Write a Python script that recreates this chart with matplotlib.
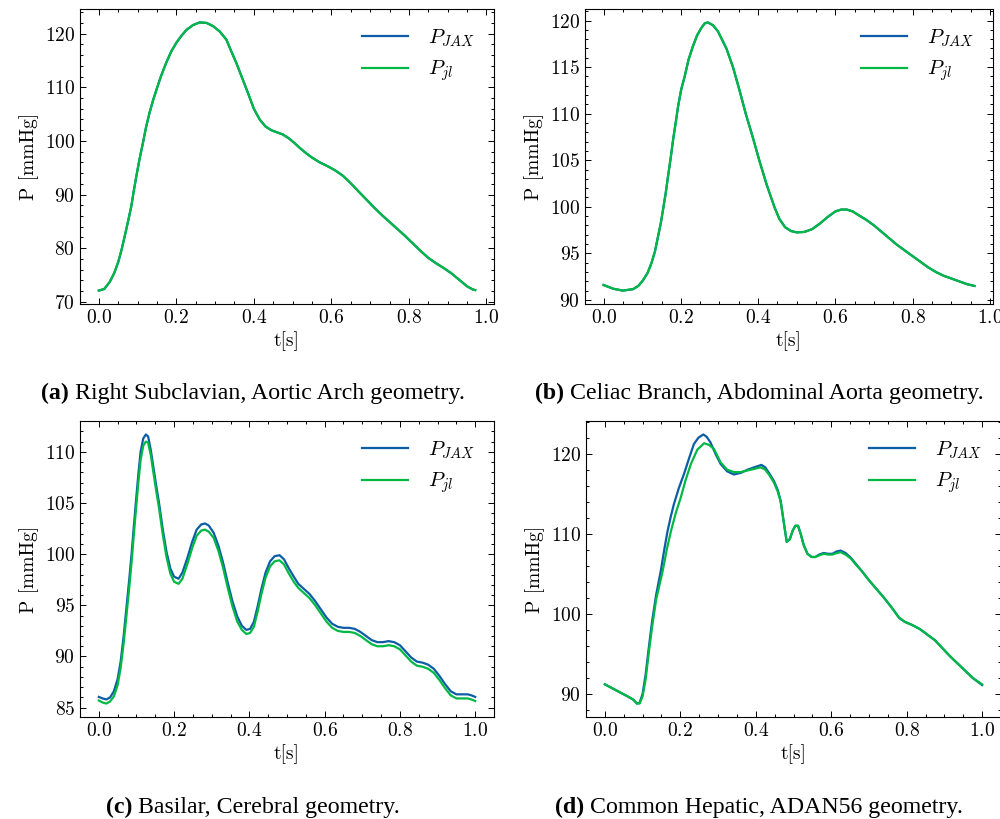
import numpy as np
import matplotlib.pyplot as plt
from matplotlib.ticker import AutoMinorLocator

plt.rcParams['font.family'] = 'serif'
plt.rcParams['font.serif'] = ['cmr10']
plt.rcParams['mathtext.fontset'] = 'cm'
plt.rcParams['axes.formatter.use_mathtext'] = True
plt.rcParams['axes.unicode_minus'] = False

# (a) Right Subclavian, Aortic Arch
t_a = [0.000, 0.014, 0.028, 0.040, 0.050, 0.059, 0.067, 0.076, 0.084, 0.090, 0.097,
       0.105, 0.114, 0.122, 0.131, 0.140, 0.149, 0.160, 0.174, 0.187, 0.200, 0.213,
       0.226, 0.243, 0.260, 0.278, 0.295, 0.312, 0.329, 0.340, 0.355, 0.370, 0.385,
       0.400, 0.415, 0.430, 0.445, 0.460, 0.475, 0.490, 0.505, 0.520, 0.535, 0.550,
       0.570, 0.590, 0.610, 0.630, 0.650, 0.670, 0.690, 0.710, 0.730, 0.750, 0.770,
       0.790, 0.810, 0.830, 0.850, 0.870, 0.890, 0.910, 0.930, 0.950, 0.965, 0.971]
p_jax_a = [72.1, 72.4, 73.7, 75.4, 77.4, 79.8, 82.3, 85.2, 87.9, 90.6, 93.5,
           96.6, 99.7, 102.6, 105.3, 107.6, 109.6, 112.0, 114.6, 116.7, 118.3, 119.6,
           120.7, 121.6, 122.1, 122.0, 121.4, 120.4, 118.9, 117.0, 114.5, 111.7, 108.9,
           106.0, 104.0, 102.7, 102.0, 101.6, 101.2, 100.5, 99.6, 98.6, 97.7, 96.9,
           96.0, 95.3, 94.5, 93.5, 92.1, 90.6, 89.1, 87.6, 86.2, 84.9, 83.6,
           82.3, 80.9, 79.5, 78.2, 77.2, 76.3, 75.3, 74.1, 72.9, 72.3, 72.2]
p_jl_a = p_jax_a

# (b) Celiac Branch, Abdominal Aorta
t_b = [0.000, 0.025, 0.050, 0.076, 0.090, 0.102, 0.114, 0.124, 0.133, 0.141, 0.148,
       0.154, 0.161, 0.167, 0.174, 0.180, 0.187, 0.193, 0.201, 0.210, 0.220, 0.231,
       0.242, 0.253, 0.262, 0.270, 0.283, 0.296, 0.318, 0.335, 0.352, 0.368, 0.386,
       0.403, 0.422, 0.442, 0.455, 0.470, 0.485, 0.500, 0.520, 0.540, 0.560, 0.580,
       0.600, 0.615, 0.630, 0.645, 0.660, 0.680, 0.700, 0.720, 0.740, 0.760, 0.780,
       0.800, 0.820, 0.840, 0.860, 0.880, 0.900, 0.920, 0.940, 0.960]
p_jax_b = [91.6, 91.2, 91.0, 91.15, 91.5, 92.1, 92.9, 93.95, 95.2, 96.8, 98.2,
           99.7, 101.5, 103.3, 105.3, 107.2, 109.1, 110.8, 112.6, 114.0, 115.8, 117.2,
           118.4, 119.2, 119.7, 119.8, 119.5, 118.85, 117.0, 115.0, 112.5, 110.0, 107.5,
           105.0, 102.4, 100.0, 98.7, 97.8, 97.4, 97.25, 97.3, 97.6, 98.2, 98.9,
           99.5, 99.7, 99.7, 99.5, 99.1, 98.6, 98.0, 97.3, 96.6, 95.9, 95.3,
           94.7, 94.1, 93.5, 93.0, 92.6, 92.3, 92.0, 91.7, 91.5]
p_jl_b = p_jax_b

# (c) Basilar, Cerebral
t_c = [0.000, 0.010, 0.020, 0.030, 0.040, 0.050, 0.058, 0.066, 0.074, 0.081, 0.087,
       0.093, 0.099, 0.105, 0.111, 0.118, 0.125, 0.131, 0.138, 0.145, 0.152, 0.160,
       0.170, 0.180, 0.190, 0.200, 0.212, 0.222, 0.235, 0.248, 0.260, 0.272, 0.282,
       0.292, 0.305, 0.318, 0.330, 0.342, 0.355, 0.368, 0.380, 0.392, 0.402, 0.412,
       0.422, 0.432, 0.443, 0.455, 0.467, 0.480, 0.492, 0.505, 0.518, 0.530, 0.545,
       0.560, 0.575, 0.590, 0.605, 0.620, 0.635, 0.650, 0.665, 0.680, 0.695, 0.710,
       0.725, 0.740, 0.755, 0.770, 0.785, 0.800, 0.815, 0.830, 0.845, 0.860, 0.875,
       0.890, 0.905, 0.920, 0.935, 0.950, 0.965, 0.980, 0.990, 1.000]
p_jax_c = [86.05, 85.9, 85.8, 86.0, 86.6, 87.8, 89.5, 92.0, 95.0, 97.6, 100.0,
           102.7, 105.3, 107.8, 110.0, 111.3, 111.7, 111.5, 110.2, 108.5, 106.8, 105.0,
           102.4, 100.2, 98.6, 97.8, 97.6, 98.2, 99.6, 101.2, 102.4, 102.9, 103.0,
           102.8, 102.1, 100.8, 99.2, 97.3, 95.4, 93.9, 93.0, 92.6, 92.7, 93.4,
           94.9, 96.6, 98.2, 99.3, 99.8, 99.9, 99.5, 98.6, 97.8, 97.1, 96.6,
           96.1, 95.4, 94.6, 93.8, 93.2, 92.9, 92.8, 92.8, 92.7, 92.4, 92.0,
           91.6, 91.4, 91.4, 91.5, 91.4, 91.1, 90.5, 89.9, 89.5, 89.4, 89.2,
           88.8, 88.1, 87.3, 86.6, 86.3, 86.3, 86.3, 86.2, 86.05]
p_jl_c = [85.7, 85.5, 85.4, 85.6, 86.1, 87.2, 88.9, 91.3, 94.2, 96.8, 99.2,
          101.9, 104.5, 107.0, 109.2, 110.6, 111.0, 110.9, 109.7, 108.0, 106.3, 104.5,
          101.9, 99.7, 98.1, 97.3, 97.1, 97.6, 99.0, 100.6, 101.8, 102.3, 102.4,
          102.2, 101.6, 100.3, 98.7, 96.8, 94.9, 93.4, 92.6, 92.2, 92.3, 92.9,
          94.4, 96.1, 97.7, 98.8, 99.3, 99.4, 99.0, 98.1, 97.3, 96.7, 96.2,
          95.7, 95.0, 94.2, 93.4, 92.8, 92.5, 92.4, 92.4, 92.3, 92.0, 91.6,
          91.2, 91.0, 91.0, 91.1, 91.0, 90.7, 90.1, 89.5, 89.1, 89.0, 88.8,
          88.4, 87.7, 86.9, 86.2, 85.9, 85.9, 85.9, 85.8, 85.65]

# (d) Common Hepatic, ADAN56
t_d_tail = [0.474, 0.482, 0.490, 0.498, 0.505, 0.512, 0.519, 0.527, 0.537, 0.548, 0.558,
            0.568, 0.580, 0.592, 0.603, 0.615, 0.625, 0.638, 0.652, 0.666, 0.680, 0.700,
            0.720, 0.740, 0.760, 0.780, 0.795, 0.815, 0.835, 0.855, 0.875, 0.895, 0.915,
            0.935, 0.955, 0.975, 1.000]
t_d_jax = [0.000, 0.020, 0.040, 0.060, 0.075, 0.085, 0.092, 0.100, 0.108, 0.116, 0.125,
           0.136, 0.148, 0.157, 0.166, 0.175, 0.183, 0.196, 0.210, 0.223, 0.236, 0.248,
           0.261, 0.270, 0.280, 0.293, 0.307, 0.324, 0.342, 0.360, 0.378, 0.396, 0.415,
           0.425, 0.435, 0.448, 0.458, 0.466] + t_d_tail
p_jax_d = [91.2, 90.7, 90.2, 89.7, 89.3, 88.8, 88.9, 90.0, 92.4, 95.6, 99.0,
           102.4, 105.3, 107.9, 110.3, 112.2, 113.7, 115.7, 117.5, 119.4, 121.2, 122.0,
           122.4, 122.1, 121.4, 120.0, 118.7, 117.8, 117.4, 117.6, 118.0, 118.3, 118.6,
           118.3, 117.6, 116.6, 115.5, 114.1,
           111.5, 109.0, 109.3, 110.4, 111.0, 111.0, 110.0, 108.6, 107.5, 107.1, 107.1,
           107.4, 107.6, 107.5, 107.5, 107.8, 107.9, 107.6, 107.0, 106.2, 105.4, 104.2,
           103.1, 102.0, 100.8, 99.5, 99.0, 98.6, 98.1, 97.4, 96.7, 95.7, 94.7,
           93.8, 92.9, 92.0, 91.1]
t_d_jl = [0.000, 0.020, 0.040, 0.060, 0.075, 0.085, 0.092, 0.100, 0.108, 0.116, 0.125,
          0.136, 0.153, 0.164, 0.175, 0.188, 0.201, 0.214, 0.228, 0.245, 0.263, 0.276,
          0.289, 0.307, 0.324, 0.342, 0.360, 0.378, 0.396, 0.413, 0.425, 0.435, 0.448,
          0.458, 0.466] + t_d_tail
p_jl_d = [91.2, 90.7, 90.2, 89.7, 89.3, 88.8, 88.8, 89.7, 91.8, 95.0, 98.3,
          101.8, 105.3, 108.0, 110.3, 112.6, 114.5, 116.7, 118.7, 120.5, 121.3, 121.1,
          120.6, 118.9, 118.0, 117.7, 117.7, 117.9, 118.1, 118.3, 118.0, 117.4, 116.4,
          115.3, 114.0,
          111.5, 109.0, 109.3, 110.4, 111.0, 111.0, 110.0, 108.6, 107.5, 107.1, 107.1,
          107.3, 107.5, 107.4, 107.4, 107.6, 107.7, 107.4, 106.9, 106.1, 105.4, 104.2,
          103.1, 102.0, 100.8, 99.5, 99.0, 98.6, 98.1, 97.4, 96.7, 95.7, 94.7,
          93.8, 92.9, 92.0, 91.2]

captions = [("(a)", "Right Subclavian, Aortic Arch geometry."),
            ("(b)", "Celiac Branch, Abdominal Aorta geometry."),
            ("(c)", "Basilar, Cerebral geometry."),
            ("(d)", "Common Hepatic, ADAN56 geometry.")]

panels = [(t_a, p_jax_a, t_a, p_jl_a),
          (t_b, p_jax_b, t_b, p_jl_b),
          (t_c, p_jax_c, t_c, p_jl_c),
          (t_d_jax, p_jax_d, t_d_jl, p_jl_d)]

W, H = 1000, 819
# axes boxes in pixels: left, top, right, bottom
boxes = [(80, 9, 494, 304), (585, 9, 993, 304),
         (80, 421, 494, 717), (586, 421, 1001, 717)]
cap_pos = [(253, 393), (759, 393), (253, 807), (759, 807)]

fig = plt.figure(figsize=(W / 100, H / 100), dpi=100)

for (l, tp, r, b), (tj, yj, tl, yl), (cx, cy), (tag, txt) in zip(boxes, panels, cap_pos, captions):
    ax = fig.add_axes([l / W, 1 - b / H, (r - l) / W, (b - tp) / H])
    ax.plot(tj, yj, color='#0C5DA5', lw=1.6, label=r'$P_{JAX}$')
    ax.plot(tl, yl, color='#00B945', lw=1.6, label=r'$P_{jl}$')
    ax.set_xlabel('t[s]', fontsize=14, labelpad=3)
    ax.set_ylabel('P [mmHg]', fontsize=14, labelpad=4)
    ax.set_xticks(np.arange(0, 1.01, 0.2))
    ax.xaxis.set_minor_locator(AutoMinorLocator())
    ax.yaxis.set_minor_locator(AutoMinorLocator())
    ax.tick_params(which='both', direction='in', top=True, right=True, labelsize=14, width=0.7)
    ax.tick_params(which='major', length=4.5)
    ax.tick_params(which='minor', length=2.2)
    for s in ax.spines.values():
        s.set_linewidth(0.8)
    ax.legend(loc='upper right', frameon=False, fontsize=15, handlelength=2.2,
              handletextpad=1.0, labelspacing=0.45)

    t1 = fig.text(cx / W, 1 - cy / H, tag + ' ', fontsize=17.2, family='Liberation Serif',
                  fontweight='bold', ha='right', va='center')
    t2 = fig.text(cx / W, 1 - cy / H, txt, fontsize=17.2, family='Liberation Serif',
                  ha='left', va='center')
    fig.canvas.draw()
    # shift both parts so the whole caption is centred
    shift = (t1.get_window_extent().width - t2.get_window_extent().width) / 2 / W
    t1.set_x(cx / W + shift)
    t2.set_x(cx / W + shift)

fig.savefig('out.png', dpi=100)
